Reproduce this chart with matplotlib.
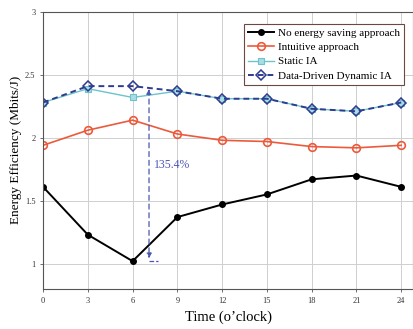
import numpy as np
import matplotlib
matplotlib.use('Agg')
import matplotlib.pyplot as plt

plt.rcParams['font.family'] = ['Liberation Serif', 'DejaVu Serif']

hours = [0, 3, 6, 9, 12, 15, 18, 21, 24]
no_saving = [1.61, 1.23, 1.02, 1.37, 1.47, 1.55, 1.67, 1.70, 1.61]
intuitive = [1.94, 2.06, 2.14, 2.03, 1.98, 1.97, 1.93, 1.92, 1.94]
static_ia = [2.28, 2.39, 2.32, 2.37, 2.31, 2.31, 2.23, 2.21, 2.28]
dynamic_ia = [2.28, 2.41, 2.41, 2.37, 2.31, 2.31, 2.23, 2.21, 2.28]

gain_x = 7.1
gain_top = 2.41
gain_bottom = 1.02
gain_label = '135.4%'

fig = plt.figure(figsize=(4.14, 3.29), dpi=100)
ax = fig.add_axes([0.104, 0.122, 0.894, 0.842])

ax.plot(hours, no_saving, '-o', color='black', lw=1.4, ms=4,
        label='No energy saving approach')
ax.plot(hours, intuitive, '-o', color='#ec5a3c', lw=1.2, ms=5.5,
        mfc='none', mew=1.2, label='Intuitive approach')
ax.plot(hours, static_ia, '-s', color='#6cc3cc', lw=1.0, ms=5,
        mfc='#a9dde3', mew=0.8, label='Static IA')
ax.plot(hours, dynamic_ia, '--D', color='#2f3b8f', lw=1.4, ms=5,
        mfc='none', mew=1.1, dashes=(3, 2), label='Data-Driven Dynamic IA')

# gain annotation
ax.annotate('', xy=(gain_x, gain_bottom), xytext=(gain_x, gain_top),
            arrowprops=dict(arrowstyle='<|-|>', color='#4a56b0', lw=0.9,
                            ls=(0, (4, 3)), mutation_scale=7))
ax.plot([gain_x, gain_x + 0.6], [gain_bottom, gain_bottom], '--',
        color='#4a56b0', lw=0.9)
ax.text(gain_x + 0.3, 1.78, gain_label, color='#4a56b0', fontsize=8.5,
        va='center', ha='left')

ax.set_xlim(0, 24.8)
ax.set_ylim(0.8, 3)
ax.set_xticks(hours)
ax.set_yticks([1, 1.5, 2, 2.5, 3])
ax.set_yticklabels(['1', '1.5', '2', '2.5', '3'])
ax.tick_params(labelsize=6, length=2, width=0.5, colors='#333333')
ax.grid(True, color='#cfcfcf', lw=0.7)
for s in ax.spines.values():
    s.set_color('#555555')
    s.set_linewidth(0.8)

ax.set_xlabel('Time (o\u2019clock)', fontsize=10.5)
ax.set_ylabel('Energy Efficiency (Mbits/J)', fontsize=9.5, labelpad=2)

leg = ax.legend(loc='upper right', fontsize=8, frameon=True, fancybox=False,
                borderpad=0.35, labelspacing=0.4, handlelength=2.3,
                handletextpad=0.4, bbox_to_anchor=(0.99, 0.975))
leg.get_frame().set_edgecolor('#6a4a40')
leg.get_frame().set_linewidth(0.8)
leg.get_frame().set_alpha(1)

fig.savefig('out.png', dpi=100)
